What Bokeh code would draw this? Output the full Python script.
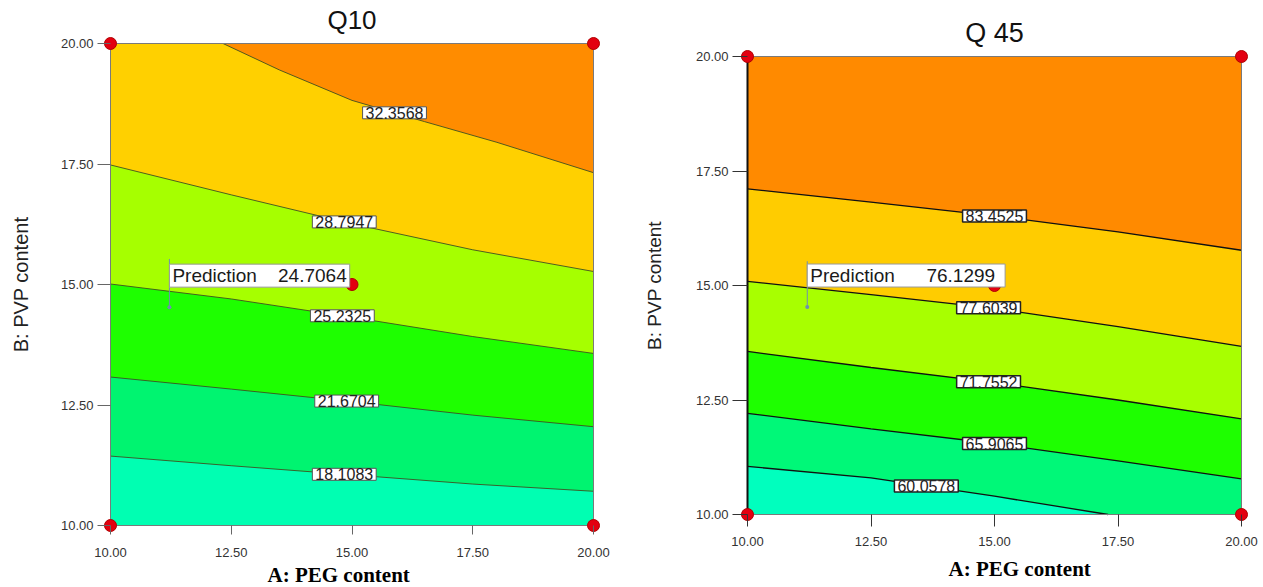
import numpy as np
from bokeh.plotting import figure
from bokeh.layouts import row
from bokeh.models import Label, Range1d, FixedTicker, Title
from bokeh.embed import file_html
from bokeh.resources import INLINE

# ---------------- data ----------------
AXIS_MIN, AXIS_MAX = 10, 20
TICKS = [10, 12.5, 15, 17.5, 20]
TICK_LABELS = {10: "10.00", 12.5: "12.50", 15: "15.00", 17.5: "17.50", 20: "20.00"}
DESIGN_X = [10, 10, 20, 20, 15]
DESIGN_Y = [10, 20, 10, 20, 15]

# Q10 contour lines (A: PEG content -> B: PVP content)
Q10_LEVELS = [18.1083, 21.6704, 25.2325, 28.7947, 32.3568]
Q10_X_1 = [10, 12.5, 15, 17.5, 20]
Q10_Y_1 = [11.44, 11.24, 11.05, 10.86, 10.71]
Q10_X_2 = [10, 12.5, 15, 17.5, 20]
Q10_Y_2 = [13.08, 12.83, 12.57, 12.29, 12.05]
Q10_X_3 = [10, 12.5, 15, 17.5, 20]
Q10_Y_3 = [15.01, 14.70, 14.32, 13.92, 13.57]
Q10_X_4 = [10, 12.5, 15, 17.5, 20]
Q10_Y_4 = [17.48, 16.86, 16.26, 15.72, 15.27]
Q10_X_5 = [12.33, 13.5, 15, 16.5, 18, 20]
Q10_Y_5 = [20.0, 19.45, 18.82, 18.38, 17.95, 17.32]
Q10_PRED_X, Q10_PRED_Y, Q10_PRED = 11.22, 14.53, "24.7064"

# Q45 contour lines
Q45_LEVELS = [60.0578, 65.9065, 71.7552, 77.6039, 83.4525]
Q45_X_1 = [10, 12.5, 15, 17.3]
Q45_Y_1 = [11.05, 10.80, 10.40, 10.0]
Q45_X_2 = [10, 12.5, 15, 17.5, 20]
Q45_Y_2 = [12.21, 11.87, 11.55, 11.17, 10.78]
Q45_X_3 = [10, 12.5, 15, 17.5, 20]
Q45_Y_3 = [13.56, 13.21, 12.88, 12.50, 12.09]
Q45_X_4 = [10, 12.5, 15, 17.5, 20]
Q45_Y_4 = [15.09, 14.80, 14.50, 14.10, 13.67]
Q45_X_5 = [10, 12.5, 15, 17.5, 20]
Q45_Y_5 = [17.11, 16.82, 16.52, 16.17, 15.77]
Q45_PRED_X, Q45_PRED_Y, Q45_PRED = 11.21, 14.53, "76.1299"

# ---------------- styles ----------------
Q10_COLORS = ["#00FFB2", "#00F470", "#1EFF00", "#A6FF00", "#FFD000", "#FF8C00"]
Q45_COLORS = ["#00FFBE", "#00F878", "#1EFF00", "#A8FF00", "#FFCC00", "#FF8A00"]
Q10_LABEL_X = [14.84, 14.89, 14.80, 14.84, 15.88]
Q45_LABEL_X = [13.62, 15.0, 14.88, 14.88, 15.0]
SANS = "Liberation Sans"
SERIF = "Liberation Serif"
NB = "\u00a0"
PAD_PX = 7  # white margin inside the frame so the corner design points are not clipped


def below_polygon(xs, ys):
    px, py = list(xs), list(ys)
    if px[-1] == AXIS_MAX:
        px.append(AXIS_MAX); py.append(AXIS_MIN)
    px.append(AXIS_MIN); py.append(AXIS_MIN)
    if py[0] == AXIS_MAX:
        px.append(AXIS_MIN); py.append(AXIS_MAX)
    return px, py


def make_panel(title, lines, levels, colors, label_x, pred, cfg):
    fw = cfg["w"] - cfg["bl"] - cfg["br"]          # frame size incl. padding
    fh = cfg["h"] - cfg["bt"] - cfg["bb"]
    span = AXIS_MAX - AXIS_MIN
    padx = PAD_PX * span / (fw - 2 * PAD_PX)
    pady = PAD_PX * span / (fh - 2 * PAD_PX)
    p = figure(width=cfg["w"], height=cfg["h"],
               x_range=Range1d(AXIS_MIN - padx, AXIS_MAX + padx),
               y_range=Range1d(AXIS_MIN - pady, AXIS_MAX + pady), output_backend="svg",
               toolbar_location=None, min_border_left=cfg["bl"], min_border_right=cfg["br"],
               min_border_top=cfg["bt"], min_border_bottom=cfg["bb"], title=title)
    p.frame_align = False
    p.grid.visible = False
    p.background_fill_color = "white"
    p.border_fill_color = "white"
    p.outline_line_color = None

    p.title.text_font = SANS
    p.title.text_font_size = cfg["tfs"]
    p.title.text_font_style = "normal"
    p.title.align = "center"
    p.title.text_color = "#111111"
    p.title.standoff = cfg["ts"]

    # filled regions
    p.quad(left=[AXIS_MIN], right=[AXIS_MAX], bottom=[AXIS_MIN], top=[AXIS_MAX],
           fill_color=colors[-1], line_color=None)
    for i in range(len(levels) - 1, -1, -1):
        xs, ys = lines[i]
        px, py = below_polygon(xs, ys)
        p.patch(px, py, fill_color=colors[i], line_color=None)
    for i in range(len(levels)):
        xs, ys = lines[i]
        p.line(xs, ys, line_color=cfg["lc"], line_width=cfg["lw"])
    # plot border
    p.quad(left=[AXIS_MIN], right=[AXIS_MAX], bottom=[AXIS_MIN], top=[AXIS_MAX],
           fill_color=None, line_color="#7a7a7a", line_width=1)
    p.line([AXIS_MIN, AXIS_MIN], [AXIS_MIN, AXIS_MAX], line_color=cfg["yal"],
           line_width=cfg["yalw"])

    # design points
    p.scatter(DESIGN_X, DESIGN_Y, size=12, fill_color="#E30010", line_color="#B00000")

    # contour labels
    for i, lev in enumerate(levels):
        xs, ys = lines[i]
        lx = label_x[i]
        ly = float(np.interp(lx, xs, ys))
        p.add_layout(Label(x=lx, y=ly, text=f"{lev:.4f}", text_align="center",
                           text_baseline="middle", text_font=SANS, text_font_size="16px",
                           text_color="#222222", background_fill_color="white",
                           border_line_color=cfg["lbc"], border_line_width=cfg["lbw"],
                           padding=dict(left=3, right=3, top=0, bottom=0)))

    # prediction flag
    px_, py_, val = pred
    p.segment(x0=[px_], y0=[py_], x1=[px_], y1=[py_ + 1.0], line_color="#6F8FB0", line_width=1)
    p.scatter([px_], [py_], size=4, fill_color="#6F8FB0", line_color=None)
    p.add_layout(Label(x=px_, y=py_, x_offset=0, y_offset=20,
                       text="Prediction" + NB * cfg["nsp"] + val,
                       text_align="left", text_baseline="bottom", text_font=SANS,
                       text_font_size="19px", text_color="#1a1a1a",
                       background_fill_color="white", border_line_color="#999999",
                       padding=dict(left=3, right=cfg["ppr"], top=1, bottom=1)))

    # axes
    for ax in (p.xaxis[0], p.yaxis[0]):
        ax.ticker = FixedTicker(ticks=TICKS)
        ax.major_label_overrides = TICK_LABELS
        ax.minor_tick_line_color = None
        ax.major_tick_in = PAD_PX
        ax.axis_line_color = None
        ax.major_label_text_font = SANS
        ax.major_label_text_font_size = "13px"
        ax.major_label_text_color = "#333333"
        ax.major_tick_line_color = cfg["tkc"]
    p.xaxis.major_tick_out = cfg["xto"]
    p.yaxis.major_tick_out = cfg["yto"]
    p.xaxis.major_label_standoff = cfg["xls"]
    p.yaxis.major_label_standoff = 4
    p.yaxis.axis_label = "B: PVP content"
    p.yaxis.axis_label_text_font = SANS
    p.yaxis.axis_label_text_font_style = "normal"
    p.yaxis.axis_label_text_font_size = cfg["yfs"]
    p.yaxis.axis_label_text_color = "#222222"
    p.yaxis.axis_label_standoff = cfg["yas"]

    # x axis title (placed slightly off-centre as in the original)
    p.add_layout(Title(text="A: PEG content", align="left", offset=cfg["xlx"],
                       text_font=SERIF, text_font_style="bold", text_font_size="21px",
                       text_color="black", standoff=cfg["xts"]), "below")
    return p


q10_lines = [(Q10_X_1, Q10_Y_1), (Q10_X_2, Q10_Y_2), (Q10_X_3, Q10_Y_3),
             (Q10_X_4, Q10_Y_4), (Q10_X_5, Q10_Y_5)]
q45_lines = [(Q45_X_1, Q45_Y_1), (Q45_X_2, Q45_Y_2), (Q45_X_3, Q45_Y_3),
             (Q45_X_4, Q45_Y_4), (Q45_X_5, Q45_Y_5)]

p1 = make_panel("Q10", q10_lines, Q10_LEVELS, Q10_COLORS, Q10_LABEL_X,
                (Q10_PRED_X, Q10_PRED_Y, Q10_PRED),
                dict(w=620, h=587, bl=103, br=20, bt=36, bb=55, ts=4, tfs="26px",
                     lc="#3f4f20", lw=0.9, lbc="#555555", lbw=1, xto=2, yto=6, xls=13,
                     yas=26, yfs="20px", yal="#7a7a7a", yalw=1, tkc="#666666",
                     xlx=164, xts=2, nsp=4, ppr=3))
p2 = make_panel("Q 45", q45_lines, Q45_LEVELS, Q45_COLORS, Q45_LABEL_X,
                (Q45_PRED_X, Q45_PRED_Y, Q45_PRED),
                dict(w=640, h=587, bl=120, br=12, bt=49, bb=66, ts=3, tfs="27px",
                     lc="#111111", lw=1.3, lbc="#222222", lbw=1.5, xto=5, yto=8, xls=10,
                     yas=28, yfs="19px", yal="#111111", yalw=2, tkc="#333333",
                     xlx=208, xts=13, nsp=6, ppr=10))

layout = row(p1, p2)
open("out.html", "w").write(file_html(layout, INLINE))
